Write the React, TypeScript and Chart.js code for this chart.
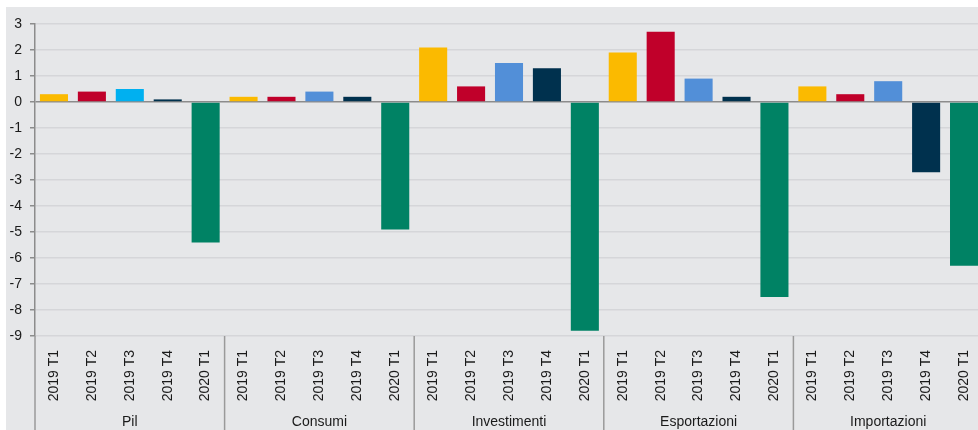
import React, { useEffect, useRef } from "react";
import { Chart, registerables } from "chart.js";

Chart.register(...registerables);

const groups = ["Pil", "Consumi", "Investimenti", "Esportazioni", "Importazioni"];
const quarters = ["2019 T1", "2019 T2", "2019 T3", "2019 T4", "2020 T1"];

const pil = [0.3, 0.4, 0.5, 0.1, -5.4];
const consumi = [0.2, 0.2, 0.4, 0.2, -4.9];
const investimenti = [2.1, 0.6, 1.5, 1.3, -8.8];
const esportazioni = [1.9, 2.7, 0.9, 0.2, -7.5];
const importazioni = [0.6, 0.3, 0.8, -2.7, -6.3];

const quarterColors = ["#FBBA00", "#C0002A", "#528FD8", "#00314E", "#008264"];
const pilT3Color = "#00B0F0";

const FONT = 'Arial, "Liberation Sans", sans-serif';

export default function App() {
  const ref = useRef<HTMLCanvasElement | null>(null);

  useEffect(() => {
    if (!ref.current) return;
    const seriesByGroup = [pil, consumi, investimenti, esportazioni, importazioni];
    const labels: string[] = [];
    const values: number[] = [];
    const colors: string[] = [];
    seriesByGroup.forEach((arr, g) => {
      arr.forEach((v, q) => {
        labels.push(quarters[q]);
        values.push(v);
        colors.push(g === 0 && q === 2 ? pilT3Color : quarterColors[q]);
      });
    });

    const groupPlugin = {
      id: "groupPlugin",
      afterDraw(chart: any) {
        const ctx = chart.ctx;
        const area = chart.chartArea;
        const xs = chart.scales.x;
        const n = quarters.length;
        const cw = (area.right - area.left) / labels.length;
        ctx.save();
        ctx.strokeStyle = "#9a9a9a";
        ctx.lineWidth = 1.5;
        for (let k = 0; k <= groups.length; k++) {
          const x = area.left + k * n * cw;
          ctx.beginPath();
          ctx.moveTo(x, area.bottom);
          ctx.lineTo(x, chart.height);
          ctx.stroke();
        }
        ctx.fillStyle = "#1a1a1a";
        ctx.font = `14px ${FONT}`;
        ctx.textAlign = "center";
        ctx.textBaseline = "alphabetic";
        groups.forEach((g, i) => {
          const x0 = xs.getPixelForValue(i * n);
          const x1 = xs.getPixelForValue(i * n + n - 1);
          ctx.fillText(g, (x0 + x1) / 2, 419);
        });
        ctx.restore();
      },
    };

    const chart = new Chart(ref.current, {
      type: "bar",
      data: {
        labels,
        datasets: [
          {
            data: values,
            backgroundColor: colors,
            borderWidth: 0,
            barPercentage: 0.74,
            categoryPercentage: 1,
          },
        ],
      },
      options: {
        responsive: false,
        animation: false,
        devicePixelRatio: 1,
        layout: { padding: { top: 17, right: 13, left: 0, bottom: 0 } },
        plugins: {
          legend: { display: false },
          tooltip: { enabled: false },
        },
        scales: {
          x: {
            grid: {
              display: true,
              drawOnChartArea: false,
              drawTicks: false,
              color: "rgba(0,0,0,0)",
            },
            border: { display: false },
            ticks: {
              autoSkip: false,
              maxRotation: 90,
              minRotation: 90,
              padding: 14,
              color: "#1a1a1a",
              font: { family: FONT, size: 14 },
            },
            afterFit(scale: any) {
              scale.height = 94;
            },
          },
          y: {
            min: -9,
            max: 3,
            ticks: {
              stepSize: 1,
              padding: 8,
              color: "#1a1a1a",
              font: { family: FONT, size: 14 },
            },
            grid: {
              color: (c: any) => (c.tick && c.tick.value === 0 ? "#8c8c8c" : "#d5d6d9"),
              lineWidth: 1.5,
              tickLength: 5,
              tickColor: "#8c8c8c",
            },
            border: { display: true, color: "#8c8c8c", width: 1.5 },
            afterFit(scale: any) {
              scale.width = 29;
            },
          },
        },
      },
      plugins: [groupPlugin],
    });
    return () => chart.destroy();
  }, []);

  return (
    <div
      style={{
        position: "fixed",
        left: 6,
        top: 7,
        width: 972,
        height: 423,
        overflow: "hidden",
        background: "#E6E7E9",
      }}
    >
      <canvas ref={ref} width={990} height={423} style={{ display: "block", width: 990, height: 423 }} />
    </div>
  );
}
